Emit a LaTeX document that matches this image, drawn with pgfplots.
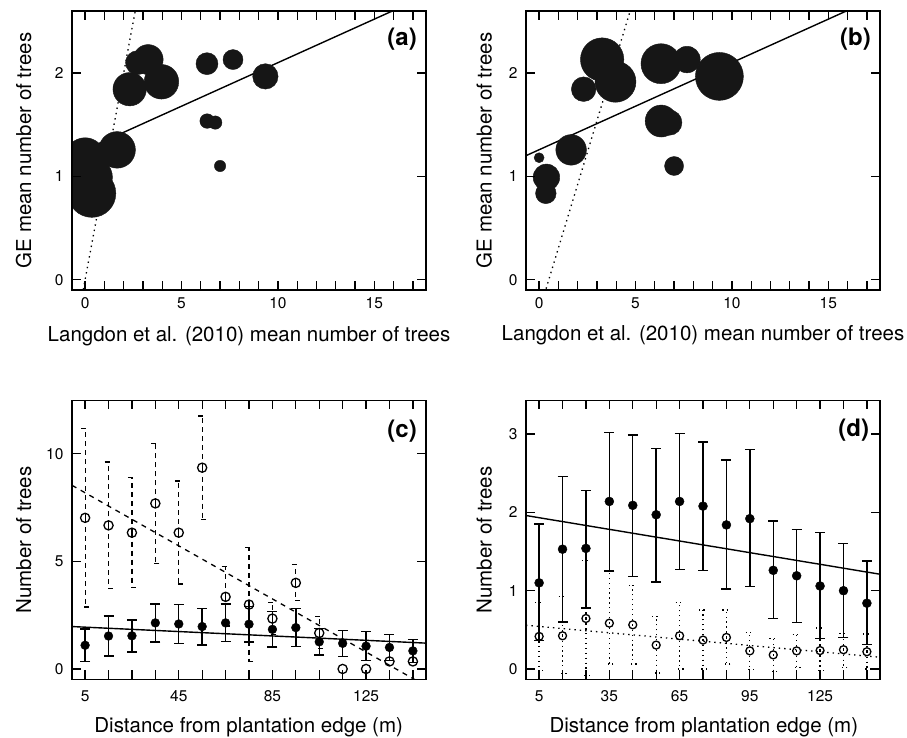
\documentclass[border=0pt]{standalone}
\usepackage{fontspec}
\setmainfont{TeX Gyre Heros}
\usepackage{pgfplots}
\usepackage{pgfplotstable}
\pgfplotsset{compat=1.18}
\definecolor{blob}{RGB}{22,22,22}

% points of panels (a) and (b): x, y, radius in (a), radius in (b)
\pgfplotstableread{
x     y      ra    rb
0.00  1.18   20    5
0.38  0.99   20    13.3
0.35  0.835  24    10.3
1.66  1.256  18.3  15.3
2.31  1.843  16.7  12.3
2.72  2.10   12    9
3.27  2.13   15    21.7
3.96  1.915  17.3  20.5
6.32  2.09   11    20
7.67  2.13   10    13.3
9.35  1.967  12.7  24
6.33  1.535  7.3   16
6.75  1.52   6.7   12.7
7.00  1.10   5.7   9.5
}\tabAB

% filled points, panels (c) and (d)
\pgfplotstableread{
x    y     lo     hi
5    1.10  0.36   1.85
15   1.53  0.60   2.46
25   1.54  0.78   2.28
35   2.14  1.25   3.02
45   2.09  1.18   2.99
55   1.97  1.11   2.82
65   2.14  1.27   3.01
75   2.08  1.26   2.90
85   1.84  1.02   2.67
95   1.92  1.05   2.80
105  1.26  0.645  1.89
115  1.19  0.59   1.78
125  1.06  0.39   1.74
135  1.00  0.40   1.60
145  0.84  0.31   1.38
}\tabS

% open points, panel (c)
\pgfplotstableread{
x    y     lo    hi
5    7.02  2.88  11.16
15   6.67  3.75  9.61
25   6.33  3.78  8.91
35   7.69  4.90  10.48
45   6.33  3.95  8.73
55   9.35  6.94  11.75
65   3.35  2.00  4.77
75   2.99  0.35  5.63
85   2.34  1.60  3.10
95   4.00  3.17  4.86
105  1.67  0.95  2.44
}\tabC
\pgfplotstableread{
x    y
115  0.00
125  0.00
135  0.35
145  0.35
}\tabCz

% open points, panel (d)
\pgfplotstableread{
x    y      lo      hi
5    0.416  -0.02   0.85
15   0.424  -0.06   0.925
25   0.645  -0.08   1.39
35   0.585  0.064   1.25
45   0.564  0.064   1.07
55   0.305  -0.05   0.67
65   0.424  0.0     0.85
75   0.369  0.0     0.755
85   0.403  0.064   0.755
95   0.231  -0.01   0.47
105  0.180  -0.035  0.385
115  0.231  0.015   0.44
125  0.235  -0.02   0.525
135  0.246  0.02    0.455
145  0.22   0.0     0.445
}\tabD

\pgfplotsset{
  panel/.style={
    anchor=south west, scale only axis, width=354pt, height=279pt,
    axis on top, clip marker paths=true,
    axis line style={line width=1.5pt},
    tick align=inside, tick pos=both,
    major tick length=9pt, minor tick length=9pt,
    every tick/.style={line width=1.3pt, black},
    tick label style={font=\fontsize{15.5}{16}\selectfont},
    /pgf/number format/assume math mode=true,
    yticklabel style={xshift=-5pt},
  },
  bars/.style={
    error bars/.cd, y dir=both, y explicit,
    error bar style={line width=1.4pt},
    error mark options={rotate=90, line width=1.4pt, mark size=5pt},
  },
}
\newcommand{\lab}{\fontsize{20.5}{22}\selectfont}
\newcommand{\pan}{\fontsize{24}{24}\selectfont\bfseries}

\begin{document}
\begin{tikzpicture}
\useasboundingbox (0,0) rectangle (907pt,738pt);

% (a)
\begin{axis}[panel, at={(72pt,448pt)},
  xmin=-0.68, xmax=17.68, ymin=-0.1, ymax=2.6,
  xtick={0,5,10,15}, minor xtick={1,2,3,4,6,7,8,9,11,12,13,14,16,17},
  ytick={0,1,2}, xticklabel style={yshift=-4pt}]
\addplot[black, line width=1.3pt, dash pattern=on 1.4pt off 4pt] coordinates {(-0.3,-0.3) (2.8,2.8)};
\addplot[black, line width=1.4pt] coordinates {(-0.68,1.2) (17.68,2.747)};
\addplot[scatter, only marks, mark=*, scatter/use mapped color={draw=blob, fill=blob},
  visualization depends on={\thisrow{ra} \as \rad},
  scatter/@pre marker code/.append style={/tikz/mark size=\rad}]
  table[x=x, y=y] {\tabAB};
\end{axis}
\node[anchor=east, inner sep=0pt, font=\pan] at (417pt,699pt) {(a)};
\node[anchor=base, font=\lab] at (249pt,396.5pt) {Langdon et al. (2010) mean number of trees};
\node[anchor=base, rotate=90, font=\lab] at (31pt,587.5pt) {GE mean number of trees};

% (b)
\begin{axis}[panel, at={(526pt,448pt)},
  xmin=-0.68, xmax=17.68, ymin=-0.1, ymax=2.6,
  xtick={0,5,10,15}, minor xtick={1,2,3,4,6,7,8,9,11,12,13,14,16,17},
  ytick={0,1,2}, xticklabel style={yshift=-4pt}]
\addplot[black, line width=1.3pt, dash pattern=on 1.4pt off 4pt] coordinates {(0.2,-0.187) (4.9,2.71)};
\addplot[black, line width=1.4pt] coordinates {(-0.68,1.2) (17.68,2.747)};
\addplot[scatter, only marks, mark=*, scatter/use mapped color={draw=blob, fill=blob},
  visualization depends on={\thisrow{rb} \as \rad},
  scatter/@pre marker code/.append style={/tikz/mark size=\rad}]
  table[x=x, y=y] {\tabAB};
\end{axis}
\node[anchor=east, inner sep=0pt, font=\pan] at (871pt,699pt) {(b)};
\node[anchor=base, font=\lab] at (703pt,397pt) {Langdon et al. (2010) mean number of trees};
\node[anchor=base, rotate=90, font=\lab] at (491.7pt,587.5pt) {GE mean number of trees};

% (c)
\begin{axis}[panel, at={(72pt,58.7pt)},
  xmin=-0.6, xmax=150.6, ymin=-0.48, ymax=12.48,
  xtick={5,45,85,125}, minor xtick={15,25,35,55,65,75,95,105,115,135,145},
  ytick={0,5,10}, xticklabel style={yshift=-8pt}]
\addplot[black, line width=1.3pt, dash pattern=on 5pt off 5pt] coordinates {(-0.6,8.53) (150.6,-0.79)};
\addplot[black, line width=1.4pt] coordinates {(-0.6,1.97) (150.6,1.20)};
\addplot[black, only marks, mark=o, mark size=4.6pt, mark options={line width=1.3pt, solid},
  bars, error bar style={line width=1.2pt, dash pattern=on 5pt off 4pt},
  error mark options={rotate=90, line width=1.2pt, mark size=4pt, dash pattern=on 5pt off 4pt}]
  table[x=x, y=y, y error plus expr=\thisrow{hi}-\thisrow{y},
        y error minus expr=\thisrow{y}-\thisrow{lo}] {\tabC};
\addplot[black, only marks, mark=o, mark size=4.6pt, mark options={line width=1.3pt}]
  table[x=x, y=y] {\tabCz};
\addplot[black, only marks, mark=*, mark size=4.4pt, bars]
  table[x=x, y=y, y error plus expr=\thisrow{hi}-\thisrow{y},
        y error minus expr=\thisrow{y}-\thisrow{lo}] {\tabS};
\end{axis}
\node[anchor=east, inner sep=0pt, font=\pan] at (417pt,307pt) {(c)};
\node[anchor=base, font=\lab] at (248.7pt,5.3pt) {Distance from plantation edge (m)};
\node[anchor=base, rotate=90, font=\lab] at (31pt,198pt) {Number of trees};

% (d)
\begin{axis}[panel, at={(526pt,58.7pt)},
  xmin=-0.6, xmax=150.6, ymin=-0.132, ymax=3.432,
  xtick={5,35,65,95,125}, minor xtick={15,25,45,55,75,85,105,115,135,145},
  ytick={0,1,2,3}, xticklabel style={yshift=-8pt}]
\addplot[black, line width=1.4pt] coordinates {(-0.6,1.96) (150.6,1.21)};
\addplot[black, line width=1.3pt, dash pattern=on 1.4pt off 4pt] coordinates {(-0.6,0.558) (150.6,0.15)};
\addplot[black, only marks, mark=o, mark size=4.0pt, mark options={line width=1.3pt, solid},
  bars, error bar style={line width=1.3pt, dash pattern=on 1.3pt off 3.6pt},
  error mark options={rotate=90, line width=1.3pt, mark size=4pt, dash pattern=on 1.3pt off 3pt}]
  table[x=x, y=y, y error plus expr=\thisrow{hi}-\thisrow{y},
        y error minus expr=\thisrow{y}-\thisrow{lo}] {\tabD};
\addplot[black, only marks, mark=*, mark size=4.5pt, bars]
  table[x=x, y=y, y error plus expr=\thisrow{hi}-\thisrow{y},
        y error minus expr=\thisrow{y}-\thisrow{lo}] {\tabS};
\end{axis}
\node[anchor=east, inner sep=0pt, font=\pan] at (869.3pt,307.5pt) {(d)};
\node[anchor=base, font=\lab] at (703.8pt,5.3pt) {Distance from plantation edge (m)};
\node[anchor=base, rotate=90, font=\lab] at (491.7pt,198pt) {Number of trees};
\end{tikzpicture}
\end{document}
